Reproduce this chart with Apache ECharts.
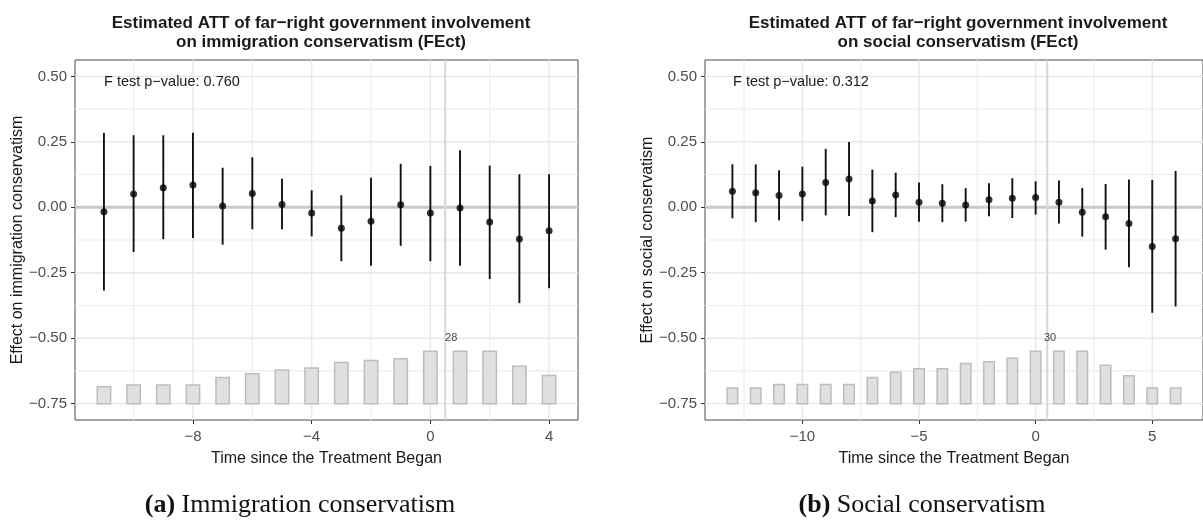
<!DOCTYPE html>
<html>
<head>
<meta charset="utf-8">
<script src="https://cdn.jsdelivr.net/npm/echarts@6/dist/echarts.min.js"></script>
<style>
  html, body { margin: 0; padding: 0; background: #ffffff; }
  #chart { width: 1203px; height: 521px; }
</style>
</head>
<body>
<div id="chart"></div>
<script>
// Panel (a): immigration conservatism
const immPeriods = [-11, -10, -9, -8, -7, -6, -5, -4, -3, -2, -1, 0, 1, 2, 3, 4];
const immEst   = [-0.017, 0.051, 0.075, 0.085, 0.005, 0.053, 0.011, -0.022, -0.080, -0.053, 0.010, -0.022, -0.003, -0.056, -0.121, -0.090];
const immLower = [-0.318, -0.171, -0.122, -0.117, -0.143, -0.084, -0.084, -0.111, -0.206, -0.223, -0.147, -0.206, -0.223, -0.274, -0.366, -0.309];
const immUpper = [0.284, 0.275, 0.275, 0.285, 0.151, 0.191, 0.109, 0.065, 0.046, 0.113, 0.166, 0.158, 0.218, 0.159, 0.126, 0.126];
const immCounts = [9, 10, 10, 10, 14, 16, 18, 19, 22, 23, 24, 28, 28, 28, 20, 15];
const immPValue = '0.760';

// Panel (b): social conservatism
const socPeriods = [-13, -12, -11, -10, -9, -8, -7, -6, -5, -4, -3, -2, -1, 0, 1, 2, 3, 4, 5, 6];
const socEst   = [0.061, 0.055, 0.045, 0.051, 0.095, 0.108, 0.024, 0.047, 0.019, 0.015, 0.009, 0.029, 0.034, 0.037, 0.019, -0.019, -0.036, -0.062, -0.150, -0.120];
const socLower = [-0.042, -0.057, -0.050, -0.053, -0.031, -0.033, -0.095, -0.038, -0.055, -0.057, -0.055, -0.034, -0.041, -0.028, -0.062, -0.112, -0.162, -0.229, -0.403, -0.379];
const socUpper = [0.164, 0.164, 0.141, 0.155, 0.223, 0.249, 0.144, 0.132, 0.095, 0.088, 0.073, 0.092, 0.111, 0.099, 0.102, 0.074, 0.089, 0.106, 0.104, 0.139];
const socCounts = [9, 9, 11, 11, 11, 11, 15, 18, 20, 20, 23, 24, 26, 30, 30, 30, 22, 16, 9, 9];
const socPValue = '0.312';

// Axis ticks
const immXTicks = [-8, -4, 0, 4];
const immXMinor = [-10, -6, -2, 2];
const socXTicks = [-10, -5, 0, 5];
const socXMinor = [-12.5, -7.5, -2.5, 2.5];
const yTicks = [-0.75, -0.5, -0.25, 0, 0.25, 0.5];
const yMinor = [-0.625, -0.375, -0.125, 0.125, 0.375];

// Text
const titleA = 'Estimated ATT of far\u2212right government involvement\non immigration conservatism (FEct)';
const titleB = 'Estimated ATT of far\u2212right government involvement\non social conservatism (FEct)';
const yNameA = 'Effect on immigration conservatism';
const yNameB = 'Effect on social conservatism';
const xName = 'Time since the Treatment Began';

// Count histogram drawn along the bottom of each panel
const BAR_BASE = -0.75;
const BAR_SPAN = 0.2;
const BAR_HALF = 0.225;
const FONT = '"Liberation Sans", Arial, Helvetica, sans-serif';
const SERIF = '"Liberation Serif", "Times New Roman", serif';

const minus = v => (v < 0 ? '\u2212' : '') + Math.abs(v);
const minus2 = v => (v < 0 ? '\u2212' : '') + Math.abs(v).toFixed(2);

function vLine(color, width) {
  return function (params, api) {
    const cs = params.coordSys;
    const x = api.coord([api.value(0), 0])[0];
    return { type: 'line', silent: true,
      shape: { x1: x, y1: cs.y, x2: x, y2: cs.y + cs.height },
      style: { stroke: color, lineWidth: width } };
  };
}
function hLine(color, width) {
  return function (params, api) {
    const cs = params.coordSys;
    const y = api.coord([0, api.value(1)])[1];
    return { type: 'line', silent: true,
      shape: { x1: cs.x, y1: y, x2: cs.x + cs.width, y2: y },
      style: { stroke: color, lineWidth: width } };
  };
}

function panelSeries(g, periods, est, lo, hi, counts, xMajor, xMinor, labelX) {
  const maxN = Math.max(...counts);
  const base = { xAxisIndex: g, yAxisIndex: g, animation: false, silent: true };
  return [
    Object.assign({ type: 'custom', z: 1, renderItem: vLine('#ececec', 1.1), encode: { x: 0, y: 1 },
      data: xMinor.map(v => [v, 0]) }, base),
    Object.assign({ type: 'custom', z: 1, renderItem: hLine('#ececec', 1.1), encode: { x: 0, y: 1 },
      data: yMinor.map(v => [0, v]) }, base),
    Object.assign({ type: 'custom', z: 1, renderItem: vLine('#e8e8e8', 1.4), encode: { x: 0, y: 1 },
      data: xMajor.map(v => [v, 0]) }, base),
    Object.assign({ type: 'custom', z: 1, renderItem: hLine('#e8e8e8', 1.4), encode: { x: 0, y: 1 },
      data: yTicks.map(v => [0, v]) }, base),
    // reference lines: zero effect and treatment onset
    Object.assign({ type: 'custom', z: 2, renderItem: hLine('#c9c9c9', 3), encode: { x: 0, y: 1 },
      data: [[0, 0]] }, base),
    Object.assign({ type: 'custom', z: 2, renderItem: vLine('#d6d6d6', 2), encode: { x: 0, y: 1 },
      data: [[0.5, 0]] }, base),
    // treated-unit counts
    Object.assign({ type: 'custom', z: 3, encode: { x: 0, y: 1 },
      data: periods.map((p, i) => [p, counts[i]]),
      renderItem: function (params, api) {
        const x = api.value(0), n = api.value(1);
        const top = BAR_BASE + n / maxN * BAR_SPAN;
        const p1 = api.coord([x - BAR_HALF, top]);
        const p2 = api.coord([x + BAR_HALF, BAR_BASE]);
        return { type: 'rect',
          shape: { x: p1[0], y: p1[1], width: p2[0] - p1[0], height: p2[1] - p1[1] },
          style: { fill: '#e0e0e0', stroke: '#bdbdbd', lineWidth: 1.5 } };
      } }, base),
    Object.assign({ type: 'custom', z: 3, encode: { x: 0, y: 1 },
      data: [[labelX, -0.5, maxN]],
      renderItem: function (params, api) {
        const p = api.coord([api.value(0), api.value(1)]);
        return { type: 'text', x: p[0], y: p[1],
          style: { text: String(api.value(2)), textAlign: 'center', textVerticalAlign: 'middle',
            font: '11px ' + FONT, fill: '#444' } };
      } }, base),
    // confidence intervals
    Object.assign({ type: 'custom', z: 4, encode: { x: 0, y: [1, 2] },
      data: periods.map((p, i) => [p, lo[i], hi[i]]),
      renderItem: function (params, api) {
        const a = api.coord([api.value(0), api.value(1)]);
        const b = api.coord([api.value(0), api.value(2)]);
        return { type: 'line', shape: { x1: a[0], y1: a[1], x2: b[0], y2: b[1] },
          style: { stroke: '#111', lineWidth: 1.9 } };
      } }, base),
    // point estimates
    Object.assign({ type: 'scatter', z: 5, symbol: 'circle', symbolSize: 7,
      itemStyle: { color: '#000' },
      data: periods.map((p, i) => [p, est[i]]) }, base)
  ];
}

function xAxisCfg(g, min, max, ticks) {
  return {
    gridIndex: g, type: 'value', min: min, max: max,
    axisLine: { show: false, onZero: false },
    splitLine: { show: false },
    axisTick: { show: true, customValues: ticks, length: 4, lineStyle: { color: '#333', width: 1 } },
    axisLabel: { customValues: ticks, formatter: minus, color: '#4d4d4d', fontSize: 15, fontFamily: FONT, margin: 9 },
    name: xName, nameLocation: 'middle', nameGap: 31,
    nameTextStyle: { color: '#1a1a1a', fontSize: 16, fontFamily: FONT }
  };
}
function yAxisCfg(g, name) {
  return {
    gridIndex: g, type: 'value', min: -0.8125, max: 0.5625,
    axisLine: { show: false, onZero: false },
    splitLine: { show: false },
    axisTick: { show: true, customValues: yTicks, length: 4, lineStyle: { color: '#333', width: 1 } },
    axisLabel: { customValues: yTicks, formatter: minus2, color: '#4d4d4d', fontSize: 15, fontFamily: FONT, margin: 8 },
    name: name, nameLocation: 'middle', nameGap: 48,
    nameTextStyle: { color: '#1a1a1a', fontSize: 16, fontFamily: FONT }
  };
}

const chart = echarts.init(document.getElementById('chart'), null, { renderer: 'canvas' });
chart.setOption({
  animation: false,
  backgroundColor: '#ffffff',
  grid: [
    { left: 75, top: 60, width: 503, height: 360, show: true, borderColor: '#4a4a4a', borderWidth: 1, backgroundColor: '#fff' },
    { left: 705, top: 60, width: 504, height: 360, show: true, borderColor: '#4a4a4a', borderWidth: 1, backgroundColor: '#fff' }
  ],
  xAxis: [
    xAxisCfg(0, -11.975, 4.975, immXTicks),
    xAxisCfg(1, -14.175, 7.175, socXTicks)
  ],
  yAxis: [yAxisCfg(0, yNameA), yAxisCfg(1, yNameB)],
  series: [
    ...panelSeries(0, immPeriods, immEst, immLower, immUpper, immCounts, immXTicks, immXMinor, 0.7),
    ...panelSeries(1, socPeriods, socEst, socLower, socUpper, socCounts, socXTicks, socXMinor, 0.62)
  ],
  graphic: [
    { type: 'text', x: 321, y: 14, z: 20, silent: true,
      style: { text: titleA, textAlign: 'center', textVerticalAlign: 'top', lineHeight: 19,
        font: 'bold 17px ' + FONT, fill: '#1a1a1a' } },
    { type: 'text', x: 958, y: 14, z: 20, silent: true,
      style: { text: titleB, textAlign: 'center', textVerticalAlign: 'top', lineHeight: 19,
        font: 'bold 17px ' + FONT, fill: '#1a1a1a' } },
    { type: 'text', x: 104, y: 82, z: 20, silent: true,
      style: { text: 'F test p\u2212value: ' + immPValue, textVerticalAlign: 'middle',
        font: '14.5px ' + FONT, fill: '#1a1a1a' } },
    { type: 'text', x: 733, y: 82, z: 20, silent: true,
      style: { text: 'F test p\u2212value: ' + socPValue, textVerticalAlign: 'middle',
        font: '14.5px ' + FONT, fill: '#1a1a1a' } },
    { type: 'text', x: 300, y: 505, z: 20, silent: true,
      style: { text: '{b|(a)} Immigration conservatism', textAlign: 'center', textVerticalAlign: 'middle',
        font: '26px ' + SERIF, fill: '#111',
        rich: { b: { fontWeight: 'bold', fontSize: 26, fontFamily: SERIF } } } },
    { type: 'text', x: 922, y: 505, z: 20, silent: true,
      style: { text: '{b|(b)} Social conservatism', textAlign: 'center', textVerticalAlign: 'middle',
        font: '26px ' + SERIF, fill: '#111',
        rich: { b: { fontWeight: 'bold', fontSize: 26, fontFamily: SERIF } } } }
  ]
});
</script>
</body>
</html>
